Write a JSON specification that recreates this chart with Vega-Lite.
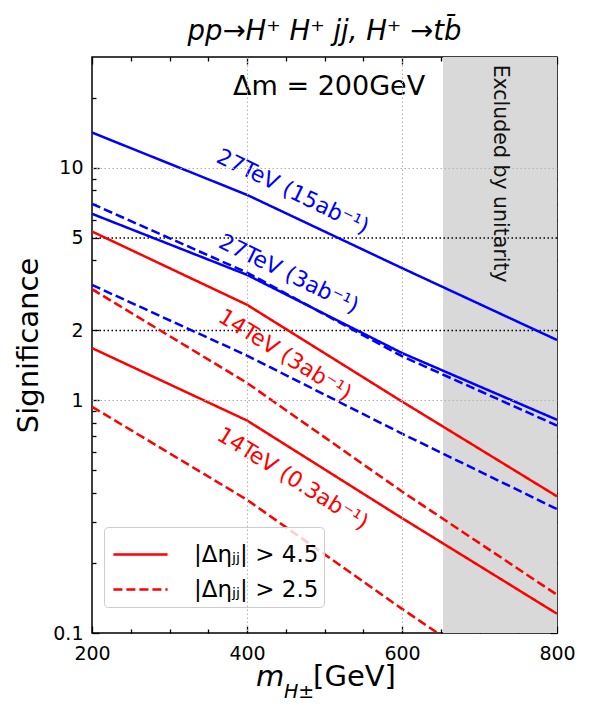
{
  "$schema": "https://vega.github.io/schema/vega-lite/v6.json",
  "width": 465,
  "height": 576,
  "autosize": "none",
  "padding": {"left": 92, "top": 57, "right": 35, "bottom": 82},
  "background": "white",
  "config": {
    "font": "DejaVu Sans",
    "view": {"stroke": "black", "strokeWidth": 1.5},
    "axis": {
      "domain": false,
      "grid": false,
      "labelFont": "DejaVu Sans",
      "titleFont": "DejaVu Sans",
      "labelColor": "black",
      "titleColor": "black",
      "tickColor": "black",
      "tickWidth": 1.3,
      "labelFlush": false,
      "labelOverlap": false,
      "labelBound": false,
      "titleFontWeight": "normal"
    },
    "text": {"font": "DejaVu Sans"}
  },
  "title": {
    "text": "pp→H⁺ H⁺ jj, H⁺ →tb̄",
    "font": "DejaVu Sans",
    "fontStyle": "italic",
    "fontWeight": "normal",
    "fontSize": 27.5,
    "color": "black",
    "baseline": "alphabetic",
    "offset": -11
  },
  "datasets": {
    "excluded": [{"m0": 653, "m1": 800, "s0": 0.1, "s1": 30}],
    "refs": [{"s": 2}, {"s": 5}],
    "curves": [
      {"series": "27TeV 15ab cut4.5", "energy": "27TeV", "cut": "|Δηⱼⱼ| > 4.5", "m": 200, "sig": 14.2},
      {"series": "27TeV 15ab cut4.5", "energy": "27TeV", "cut": "|Δηⱼⱼ| > 4.5", "m": 400, "sig": 7.66},
      {"series": "27TeV 15ab cut4.5", "energy": "27TeV", "cut": "|Δηⱼⱼ| > 4.5", "m": 600, "sig": 3.71},
      {"series": "27TeV 15ab cut4.5", "energy": "27TeV", "cut": "|Δηⱼⱼ| > 4.5", "m": 800, "sig": 1.82},
      {"series": "27TeV 3ab cut4.5", "energy": "27TeV", "cut": "|Δηⱼⱼ| > 4.5", "m": 200, "sig": 6.35},
      {"series": "27TeV 3ab cut4.5", "energy": "27TeV", "cut": "|Δηⱼⱼ| > 4.5", "m": 400, "sig": 3.47},
      {"series": "27TeV 3ab cut4.5", "energy": "27TeV", "cut": "|Δηⱼⱼ| > 4.5", "m": 600, "sig": 1.6},
      {"series": "27TeV 3ab cut4.5", "energy": "27TeV", "cut": "|Δηⱼⱼ| > 4.5", "m": 800, "sig": 0.826},
      {"series": "27TeV 15ab cut2.5", "energy": "27TeV", "cut": "|Δηⱼⱼ| > 2.5", "m": 200, "sig": 7.01},
      {"series": "27TeV 15ab cut2.5", "energy": "27TeV", "cut": "|Δηⱼⱼ| > 2.5", "m": 400, "sig": 3.55},
      {"series": "27TeV 15ab cut2.5", "energy": "27TeV", "cut": "|Δηⱼⱼ| > 2.5", "m": 600, "sig": 1.55},
      {"series": "27TeV 15ab cut2.5", "energy": "27TeV", "cut": "|Δηⱼⱼ| > 2.5", "m": 800, "sig": 0.78},
      {"series": "27TeV 3ab cut2.5", "energy": "27TeV", "cut": "|Δηⱼⱼ| > 2.5", "m": 200, "sig": 3.14},
      {"series": "27TeV 3ab cut2.5", "energy": "27TeV", "cut": "|Δηⱼⱼ| > 2.5", "m": 400, "sig": 1.56},
      {"series": "27TeV 3ab cut2.5", "energy": "27TeV", "cut": "|Δηⱼⱼ| > 2.5", "m": 600, "sig": 0.72},
      {"series": "27TeV 3ab cut2.5", "energy": "27TeV", "cut": "|Δηⱼⱼ| > 2.5", "m": 800, "sig": 0.341},
      {"series": "14TeV 3ab cut4.5", "energy": "14TeV", "cut": "|Δηⱼⱼ| > 4.5", "m": 200, "sig": 5.33},
      {"series": "14TeV 3ab cut4.5", "energy": "14TeV", "cut": "|Δηⱼⱼ| > 4.5", "m": 400, "sig": 2.58},
      {"series": "14TeV 3ab cut4.5", "energy": "14TeV", "cut": "|Δηⱼⱼ| > 4.5", "m": 600, "sig": 0.99},
      {"series": "14TeV 3ab cut4.5", "energy": "14TeV", "cut": "|Δηⱼⱼ| > 4.5", "m": 800, "sig": 0.387},
      {"series": "14TeV 3ab cut2.5", "energy": "14TeV", "cut": "|Δηⱼⱼ| > 2.5", "m": 200, "sig": 3.01},
      {"series": "14TeV 3ab cut2.5", "energy": "14TeV", "cut": "|Δηⱼⱼ| > 2.5", "m": 400, "sig": 1.19},
      {"series": "14TeV 3ab cut2.5", "energy": "14TeV", "cut": "|Δηⱼⱼ| > 2.5", "m": 600, "sig": 0.406},
      {"series": "14TeV 3ab cut2.5", "energy": "14TeV", "cut": "|Δηⱼⱼ| > 2.5", "m": 800, "sig": 0.146},
      {"series": "14TeV 0.3ab cut4.5", "energy": "14TeV", "cut": "|Δηⱼⱼ| > 4.5", "m": 200, "sig": 1.68},
      {"series": "14TeV 0.3ab cut4.5", "energy": "14TeV", "cut": "|Δηⱼⱼ| > 4.5", "m": 400, "sig": 0.82},
      {"series": "14TeV 0.3ab cut4.5", "energy": "14TeV", "cut": "|Δηⱼⱼ| > 4.5", "m": 600, "sig": 0.312},
      {"series": "14TeV 0.3ab cut4.5", "energy": "14TeV", "cut": "|Δηⱼⱼ| > 4.5", "m": 800, "sig": 0.121},
      {"series": "14TeV 0.3ab cut2.5", "energy": "14TeV", "cut": "|Δηⱼⱼ| > 2.5", "m": 200, "sig": 0.94},
      {"series": "14TeV 0.3ab cut2.5", "energy": "14TeV", "cut": "|Δηⱼⱼ| > 2.5", "m": 400, "sig": 0.374},
      {"series": "14TeV 0.3ab cut2.5", "energy": "14TeV", "cut": "|Δηⱼⱼ| > 2.5", "m": 600, "sig": 0.127},
      {"series": "14TeV 0.3ab cut2.5", "energy": "14TeV", "cut": "|Δηⱼⱼ| > 2.5", "m": 800, "sig": 0.045}
    ],
    "labels": [
      {"label": "27TeV (15ab⁻¹)", "energy": "27TeV", "m": 459, "sig": 7.9},
      {"label": "27TeV (3ab⁻¹)", "energy": "27TeV", "m": 454, "sig": 3.5},
      {"label": "14TeV (3ab⁻¹)", "energy": "14TeV", "m": 449, "sig": 1.57},
      {"label": "14TeV (0.3ab⁻¹)", "energy": "14TeV", "m": 459, "sig": 0.461}
    ],
    "notes": [{"note": "Δm = 200GeV", "m": 506, "sig": 22.3}],
    "region": [{"note": "Excluded by unitarity", "m": 727, "sig": 9.45}]
  },
  "layer": [
    {
      "data": {"name": "excluded"},
      "mark": {"type": "rect", "color": "#d9d9d9", "opacity": 1},
      "encoding": {
        "x": {
          "field": "m0", "type": "quantitative",
          "scale": {"domain": [200, 800], "nice": false, "zero": false},
          "axis": {
            "orient": "bottom", "values": [400, 600], "grid": true,
            "gridColor": "#b0b0b0", "gridDash": [1.5, 2.5], "gridWidth": 1,
            "ticks": false, "labels": false, "zindex": 1,
            "title": "H±", "titleFontSize": 19, "titleFontStyle": "italic",
            "titleX": 206.5, "titleY": 64, "titleAlign": "center", "titleBaseline": "alphabetic"
          }
        },
        "x2": {"field": "m1"},
        "y": {
          "field": "s0", "type": "quantitative",
          "scale": {"type": "log", "domain": [0.1, 30], "nice": false},
          "axis": {
            "orient": "left", "values": [1, 10], "grid": true,
            "gridColor": "#b0b0b0", "gridDash": [1.5, 2.5], "gridWidth": 1,
            "ticks": false, "labels": false, "title": null, "zindex": 1
          }
        },
        "y2": {"field": "s1"}
      }
    },
    {
      "data": {"name": "refs"},
      "mark": {"type": "rule", "color": "black", "strokeDash": [1.5, 2.5], "strokeWidth": 1.5},
      "encoding": {
        "y": {
          "field": "s", "type": "quantitative",
          "scale": {"type": "log", "domain": [0.1, 30], "nice": false},
          "axis": {
            "orient": "left", "values": [0.1, 1, 2, 5, 10], "format": "~g",
            "tickSize": -7, "labelPadding": 16, "labelFontSize": 19,
            "title": "Significance", "titleFontSize": 29, "titleAngle": -90,
            "titleX": -55, "titleY": 288, "titleAlign": "center", "titleBaseline": "alphabetic"
          }
        }
      }
    },
    {
      "data": {"name": "curves"},
      "mark": {"type": "line", "strokeWidth": 2.5, "clip": true},
      "encoding": {
        "x": {
          "field": "m", "type": "quantitative",
          "scale": {"domain": [200, 800], "nice": false, "zero": false},
          "axis": {
            "orient": "bottom", "values": [200, 400, 600, 800], "format": "d",
            "tickSize": -7, "labelPadding": 18, "labelFontSize": 19,
            "title": "[GeV]", "titleFontSize": 29,
            "titleX": 262, "titleY": 52, "titleAlign": "center", "titleBaseline": "alphabetic"
          }
        },
        "y": {
          "field": "sig", "type": "quantitative",
          "scale": {"type": "log", "domain": [0.1, 30], "nice": false},
          "axis": {
            "orient": "left", "values": [0.2, 0.3, 0.4, 0.5, 0.6, 0.7, 0.8, 0.9, 3, 4, 6, 7, 8, 9, 20],
            "tickSize": -4, "labels": false, "title": null
          }
        },
        "color": {
          "field": "energy", "type": "nominal",
          "scale": {"domain": ["27TeV", "14TeV"], "range": ["#0000ff", "#ff0000"]},
          "legend": null
        },
        "strokeDash": {
          "field": "cut", "type": "nominal",
          "scale": {"domain": ["|Δηⱼⱼ| > 4.5", "|Δηⱼⱼ| > 2.5"], "range": [[1, 0], [9, 4]]},
          "legend": {
            "orient": "none", "legendX": 12, "legendY": 470,
            "title": null,
            "symbolType": "M-1.29,0H1.29", "symbolSize": 1764, "symbolStrokeWidth": 2.5,
            "symbolStrokeColor": "#ff0000", "symbolFillColor": "transparent",
            "symbolOffset": 9,
            "labelFontSize": 23, "labelFont": "DejaVu Sans", "labelColor": "black",
            "labelOffset": 31, "rowPadding": 0,
            "strokeColor": "#cccccc", "fillColor": "rgba(255,255,255,0.8)",
            "cornerRadius": 4, "padding": 5
          }
        },
        "detail": {"field": "series", "type": "nominal"}
      }
    },
    {
      "data": {"name": "labels"},
      "transform": [{"filter": "datum.energy === '27TeV'"}],
      "mark": {"type": "text", "angle": 26, "fontSize": 22, "align": "center", "baseline": "middle"},
      "encoding": {
        "x": {
          "field": "m", "type": "quantitative",
          "scale": {"domain": [200, 800], "nice": false, "zero": false},
          "axis": {
            "orient": "top", "values": [200, 400, 600, 800],
            "tickSize": -7, "labels": false, "title": null
          }
        },
        "y": {
          "field": "sig", "type": "quantitative",
          "scale": {"type": "log", "domain": [0.1, 30], "nice": false},
          "axis": {
            "orient": "right", "values": [0.1, 1, 2, 5, 10],
            "tickSize": -7, "labels": false, "title": null
          }
        },
        "text": {"field": "label"},
        "color": {"field": "energy", "type": "nominal", "legend": null}
      }
    },
    {
      "data": {"name": "labels"},
      "transform": [{"filter": "datum.energy === '14TeV'"}],
      "mark": {"type": "text", "angle": 32, "fontSize": 22, "align": "center", "baseline": "middle"},
      "encoding": {
        "x": {"field": "m", "type": "quantitative", "axis": null},
        "y": {"field": "sig", "type": "quantitative", "axis": null},
        "text": {"field": "label"},
        "color": {"field": "energy", "type": "nominal", "legend": null}
      }
    },
    {
      "data": {"name": "notes"},
      "mark": {"type": "text", "fontSize": 27, "color": "black", "align": "center", "baseline": "middle"},
      "encoding": {
        "x": {
          "field": "m", "type": "quantitative",
          "axis": {
            "orient": "top", "values": [250, 300, 350, 450, 500, 550, 650, 700, 750],
            "tickSize": -4, "labels": false, "title": null
          }
        },
        "y": {
          "field": "sig", "type": "quantitative",
          "axis": {
            "orient": "right", "values": [0.2, 0.3, 0.4, 0.5, 0.6, 0.7, 0.8, 0.9, 3, 4, 6, 7, 8, 9, 20],
            "tickSize": -4, "labels": false, "title": null
          }
        },
        "text": {"field": "note"}
      }
    },
    {
      "data": {"name": "region"},
      "mark": {"type": "text", "fontSize": 20.5, "angle": 90, "color": "#111111", "align": "center", "baseline": "middle"},
      "encoding": {
        "x": {
          "field": "m", "type": "quantitative",
          "axis": {
            "orient": "bottom", "values": [250, 300, 350, 450, 500, 550, 650, 700, 750],
            "tickSize": -4, "labels": false,
            "title": "m", "titleFontSize": 29, "titleFontStyle": "italic",
            "titleX": 177.5, "titleY": 52, "titleAlign": "center", "titleBaseline": "alphabetic"
          }
        },
        "y": {"field": "sig", "type": "quantitative", "axis": null},
        "text": {"field": "note"}
      }
    }
  ],
  "resolve": {"axis": {"x": "independent", "y": "independent"}}
}
